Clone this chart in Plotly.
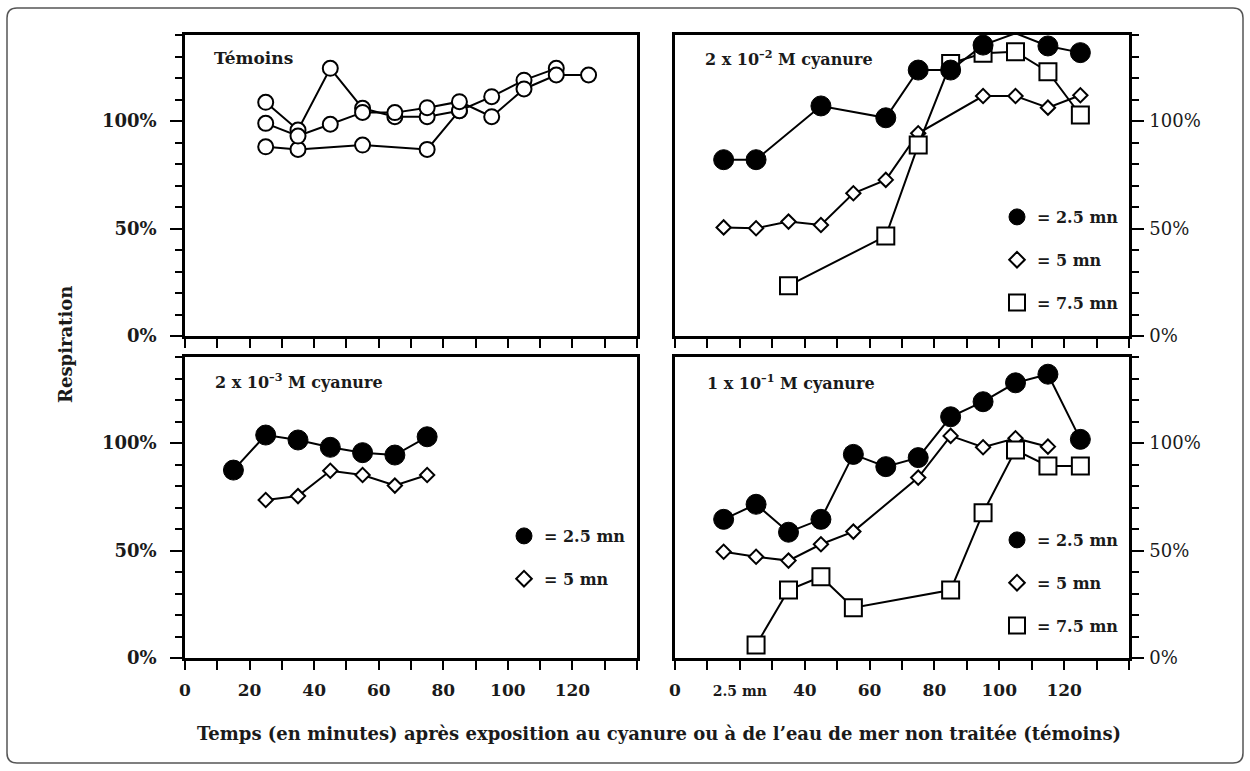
import plotly.graph_objects as go

W, H = 1250, 771

# ---------------- data (minutes, % respiration) ----------------
tem_a_x = [25, 35, 45, 55, 65, 75, 85, 95, 105, 115]
tem_a_y = [108.7, 95.8, 124.5, 105.9, 102, 102, 104.8, 111.3, 119, 124.5]
tem_b_x = [25, 35, 45, 55, 65, 75, 85, 95, 105, 115, 125]
tem_b_y = [98.9, 93, 98.5, 104, 103.9, 106.2, 109, 102, 114.9, 121.4, 121.4]
tem_c_x = [25, 35, 55, 75, 85]
tem_c_y = [88, 86.8, 88.8, 86.8, 104.8]

c2_25_x = [15, 25, 45, 65, 75, 85, 95, 105, 115, 125]
c2_25_y = [82, 82, 107, 101.5, 123.7, 123.7, 135.3, 140.8, 134.9, 131.8]
c2_5_x = [15, 25, 35, 45, 55, 65, 75, 95, 105, 115, 125]
c2_5_y = [50.5, 50.1, 53.2, 51.6, 66.4, 72.6, 94.3, 111.6, 111.6, 106.2, 112]
c2_75_x = [35, 65, 75, 85, 95, 105, 115, 125]
c2_75_y = [23.4, 46.5, 88.8, 126.8, 131.5, 132.2, 122.9, 102.8]

c3_25_x = [15, 25, 35, 45, 55, 65, 75]
c3_25_y = [87.4, 103.7, 101.4, 98, 95.5, 94.4, 102.9]
c3_5_x = [25, 35, 45, 55, 65, 75]
c3_5_y = [73.5, 75.3, 87.1, 85.1, 80.2, 85.1]

c1_25_x = [15, 25, 35, 45, 55, 65, 75, 85, 95, 105, 115, 125]
c1_25_y = [64.5, 71.5, 58.5, 64.5, 94.7, 89, 93.2, 112.2, 119.2, 128, 132, 101.7]
c1_5_x = [15, 25, 35, 45, 55, 75, 85, 95, 105, 115]
c1_5_y = [49.4, 47.1, 45.3, 52.9, 58.8, 83.9, 103.3, 98, 102.2, 98.3]
c1_75_x = [25, 35, 45, 55, 85, 95, 105, 115, 125]
c1_75_y = [6, 31.6, 37.8, 23.4, 31.6, 67.6, 96.7, 89.3, 89.3]

x_tickvals = [0, 20, 40, 60, 80, 100, 120]
x_ticktext = ["0", "20", "40", "60", "80", "100", "120"]
x_ticktext_br = ["0", "<span style='font-size:14px'>2.5 mn</span>", "40", "60", "80", "100", "120"]
legend_names = ["= 2.5 mn", "= 5 mn", "= 7.5 mn"]
panel_titles = ["Témoins", "2 x 10<sup>–2</sup> M cyanure",
                "2 x 10<sup>–3</sup> M cyanure", "1 x 10<sup>–1</sup> M cyanure"]
x_title = "Temps (en minutes) après exposition au cyanure ou à de l’eau de mer non traitée (témoins)"
y_title = "Respiration"

# ---------------- styling helpers ----------------
SERIF = "DejaVu Serif"
INK = "#1a1a1a"


def px(xp):
    return xp / W


def py(yp):
    return 1 - yp / H


STY = {
    "open": dict(symbol="circle", size=15, color="white", line=dict(color="black", width=2)),
    "dot": dict(symbol="circle", size=20, color="black", line=dict(color="black", width=1)),
    "dia": dict(symbol="diamond", size=11, color="white", line=dict(color="black", width=2)),
    "sq": dict(symbol="square", size=17, color="white", line=dict(color="black", width=2)),
}

fig = go.Figure()


def add(xs, ys, kind, ax):
    fig.add_trace(go.Scatter(
        x=xs, y=ys, mode="lines+markers", xaxis="x" + ax, yaxis="y" + ax,
        line=dict(color="black", width=2), marker=STY[kind],
        showlegend=False, cliponaxis=False, hoverinfo="skip"))


# panel 1
add(tem_c_x, tem_c_y, "open", "")
add(tem_a_x, tem_a_y, "open", "")
add(tem_b_x, tem_b_y, "open", "")
# panel 2
add(c2_5_x, c2_5_y, "dia", "2")
add(c2_75_x, c2_75_y, "sq", "2")
add(c2_25_x, c2_25_y, "dot", "2")
# panel 3
add(c3_5_x, c3_5_y, "dia", "3")
add(c3_25_x, c3_25_y, "dot", "3")
# panel 4
add(c1_5_x, c1_5_y, "dia", "4")
add(c1_75_x, c1_75_y, "sq", "4")
add(c1_25_x, c1_25_y, "dot", "4")

# legend-only keys
LEG_STY = {
    "dot": dict(symbol="circle", size=20, color="black", line=dict(color="black", width=1)),
    "dia": dict(symbol="diamond", size=12, color="white", line=dict(color="black", width=2)),
    "sq": dict(symbol="square", size=19, color="white", line=dict(color="black", width=2)),
}
for leg, kinds in (("legend", ["dot", "dia", "sq"]), ("legend2", ["dot", "dia"]),
                   ("legend3", ["dot", "dia", "sq"])):
    for i, k in enumerate(kinds):
        fig.add_trace(go.Scatter(x=[None], y=[None], mode="markers", marker=LEG_STY[k],
                                 name=legend_names[i], legend=leg, legendgroup=leg + k,
                                 showlegend=True))

xL = [px(185), px(637)]
xR = [px(675), px(1129)]
yT = [py(336), py(35)]
yB = [py(658), py(357)]


def xax(domain, anchor, text=None):
    return dict(domain=domain, anchor=anchor, range=[0, 140], showline=True, mirror=True,
                linecolor="black", linewidth=2.5, ticks="outside", ticklen=9, tickwidth=2,
                tickcolor="black", tickmode="array", tickvals=x_tickvals,
                ticktext=text if text else x_ticktext,
                showticklabels=text is not None, showgrid=False, zeroline=False,
                tickfont=dict(family=SERIF, size=17, color=INK, weight="bold"),
                ticklabelstandoff=6,
                minor=dict(ticks="outside", ticklen=9, tickwidth=2, tickcolor="black",
                           tickmode="linear", tick0=0, dtick=10, showgrid=False))


def yax(domain, anchor, side):
    bold = side == "left"
    return dict(domain=domain, anchor=anchor, side=side, range=[0, 140], showline=True,
                mirror=True, linecolor="black", linewidth=2.5, ticks="outside", ticklen=12,
                tickwidth=2, tickcolor="black", tickmode="linear", tick0=0, dtick=50,
                ticksuffix="%", showgrid=False, zeroline=False,
                tickfont=dict(family=SERIF, size=18, color=INK,
                              weight="bold" if bold else "normal"),
                ticklabelstandoff=10 if bold else 2,
                minor=dict(ticks="outside", ticklen=7, tickwidth=2, tickcolor="black",
                           tickmode="linear", tick0=0, dtick=10, showgrid=False))


leg_common = dict(xref="paper", yref="paper", xanchor="left", yanchor="top",
                  bgcolor="rgba(0,0,0,0)", borderwidth=0, itemsizing="trace",
                  traceorder="grouped", tracegroupgap=19,
                  font=dict(family=SERIF, size=16, color=INK, weight="bold"))

# rounded outer frame
x0, y0, x1, y1, r = 7, 8, 1243, 763, 10
frame = (f"M {px(x0 + r)},{py(y0)} L {px(x1 - r)},{py(y0)} Q {px(x1)},{py(y0)} {px(x1)},{py(y0 + r)} "
         f"L {px(x1)},{py(y1 - r)} Q {px(x1)},{py(y1)} {px(x1 - r)},{py(y1)} "
         f"L {px(x0 + r)},{py(y1)} Q {px(x0)},{py(y1)} {px(x0)},{py(y1 - r)} "
         f"L {px(x0)},{py(y0 + r)} Q {px(x0)},{py(y0)} {px(x0 + r)},{py(y0)} Z")

ann_font = dict(family=SERIF, size=16, color=INK, weight="bold")
annotations = [
    dict(text=panel_titles[0], x=px(212), y=py(58), font=dict(family=SERIF, size=17, color=INK, weight="bold")),
    dict(text=panel_titles[1], x=px(703), y=py(58), font=ann_font),
    dict(text=panel_titles[2], x=px(213), y=py(381), font=ann_font),
    dict(text=panel_titles[3], x=px(705), y=py(382), font=ann_font),
]
for a in annotations:
    a.update(xref="paper", yref="paper", xanchor="left", yanchor="middle", showarrow=False)
annotations.append(dict(text=x_title, x=px(659), y=py(733), xref="paper", yref="paper",
                        xanchor="center", yanchor="middle", showarrow=False,
                        font=dict(family=SERIF, size=18, color=INK, weight="bold")))
annotations.append(dict(text=y_title, x=px(65), y=py(345), xref="paper", yref="paper",
                        xanchor="center", yanchor="middle", showarrow=False, textangle=-90,
                        font=dict(family=SERIF, size=18, color=INK, weight="bold")))

fig.update_layout(
    width=W, height=H, autosize=False,
    margin=dict(l=0, r=0, t=0, b=0, autoexpand=False),
    paper_bgcolor="white", plot_bgcolor="white",
    xaxis=xax(xL, "y"), yaxis=yax(yT, "x", "left"),
    xaxis2=xax(xR, "y2"), yaxis2=yax(yT, "x2", "right"),
    xaxis3=xax(xL, "y3", x_ticktext), yaxis3=yax(yB, "x3", "left"),
    xaxis4=xax(xR, "y4", x_ticktext_br), yaxis4=yax(yB, "x4", "right"),
    legend=dict(x=px(997), y=py(200), **leg_common),
    legend2=dict(x=px(504), y=py(519), **leg_common),
    legend3=dict(x=px(997), y=py(523), **leg_common),
    annotations=annotations,
    shapes=[dict(type="path", path=frame, xref="paper", yref="paper",
                 line=dict(color="#555555", width=1.5), layer="below")],
)

fig.write_html("out.html")
